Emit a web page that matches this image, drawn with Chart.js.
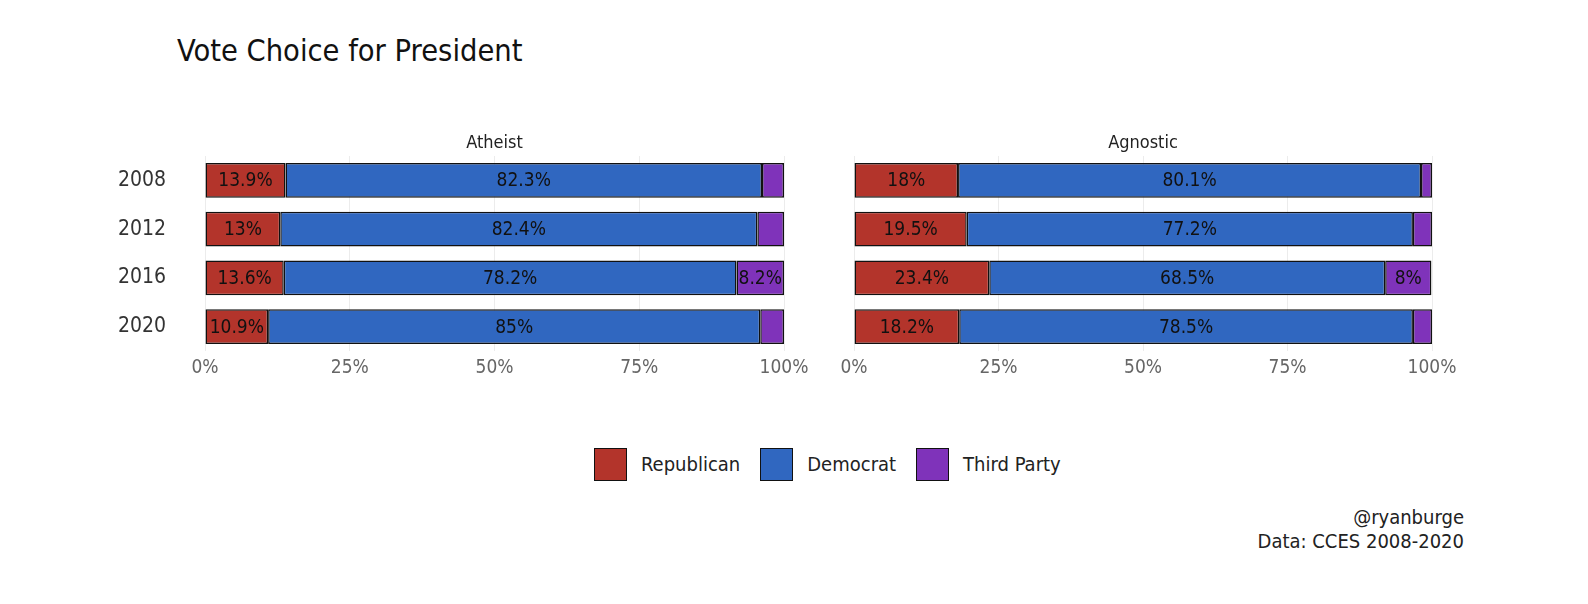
<!DOCTYPE html>
<html>
<head>
<meta charset="utf-8">
<script src="https://cdn.jsdelivr.net/npm/chart.js@4.4.1/dist/chart.umd.min.js"></script>
<style>
body{margin:0;background:#fff;width:1588px;height:604px;position:relative;overflow:hidden;font-family:"DejaVu Sans Condensed",sans-serif;}
#title{position:absolute;left:177px;top:32px;font-size:30.5px;line-height:38px;color:#111;}
.box{position:absolute;}
#legend{position:absolute;left:594px;top:447px;height:34px;display:flex;align-items:center;font-size:20px;color:#222;}
.sw{width:31px;height:31px;border:1.5px solid #111;margin-right:14px;flex:none;}
.lab{margin-right:20px;}
#caption{position:absolute;left:1200px;width:264px;top:505px;text-align:right;font-size:20px;line-height:24px;color:#222;}
</style>
</head>
<body>
<div id="title">Vote Choice for President</div>
<div class="box" style="left:100px;top:125px;width:720px;height:260px;"><canvas id="atheist"></canvas></div>
<div class="box" style="left:820px;top:125px;width:648px;height:260px;"><canvas id="agnostic"></canvas></div>
<div id="legend"></div>
<div id="caption">@ryanburge<br>Data: CCES 2008-2020</div>
<script>
const years = ["2008","2012","2016","2020"];
const parties = ["Republican","Democrat","Third Party"];
const colors = ["#b3342b","#3067c0","#7f33ba"];
const atheistRep = [13.9, 13.0, 13.6, 10.9];
const atheistDem = [82.3, 82.4, 78.2, 85.0];
const atheistThird = [3.8, 4.6, 8.2, 4.1];
const agnosticRep = [18.0, 19.5, 23.4, 18.2];
const agnosticDem = [80.1, 77.2, 68.5, 78.5];
const agnosticThird = [1.9, 3.3, 8.0, 3.3];
const xTicks = [0, 25, 50, 75, 100];
const fontFam = '"DejaVu Sans Condensed",sans-serif';

// legend
let lg = "";
for (let i = 0; i < parties.length; i++){
    lg += `<div class="sw" style="background:${colors[i]}"></div><div class="lab">${parties[i]}</div>`;
}
document.getElementById("legend").innerHTML = lg;

const barLabels = {
    id: "barLabels",
    afterDatasetsDraw(chart){
        const ctx = chart.ctx;
        ctx.save();
        ctx.font = "19px " + fontFam;
        ctx.fillStyle = "#111";
        ctx.textAlign = "center";
        ctx.textBaseline = "middle";
        chart.data.datasets.forEach((ds, di) => {
            chart.getDatasetMeta(di).data.forEach((bar, i) => {
                const v = ds.data[i];
                if (v < 5) return;
                const cx = (bar.x + bar.base) / 2;
                ctx.fillText(Math.round(v * 10) / 10 + "%", cx, bar.y + 1);
            });
        });
        ctx.restore();
    }
};

const panelTitle = {
    id: "panelTitle",
    afterDraw(chart, args, opts){
        const ctx = chart.ctx;
        const a = chart.chartArea;
        ctx.save();
        ctx.font = "18px " + fontFam;
        ctx.fillStyle = "#222";
        ctx.textAlign = "center";
        ctx.textBaseline = "middle";
        ctx.fillText(opts.text, (a.left + a.right) / 2, a.top - 13);
        ctx.restore();
    }
};

function makeChart(id, name, rep, dem, third, showYears, padLeft){
    const vals = [rep, dem, third];
    new Chart(document.getElementById(id), {
        type: "bar",
        data: {
            labels: years,
            datasets: parties.map((p, i) => ({
                label: p,
                data: vals[i],
                backgroundColor: colors[i],
                borderColor: "#111",
                borderWidth: 1.5,
                borderSkipped: false,
                categoryPercentage: 1,
                barPercentage: 0.71
            }))
        },
        options: {
            indexAxis: "y",
            responsive: true,
            maintainAspectRatio: false,
            animation: false,
            layout: { padding: { top: 31, right: 36, left: padLeft, bottom: 0 } },
            plugins: {
                legend: { display: false },
                tooltip: { enabled: false },
                panelTitle: { text: name }
            },
            scales: {
                x: {
                    stacked: true,
                    min: 0,
                    max: 100,
                    afterBuildTicks: (s) => { s.ticks = xTicks.map(v => ({ value: v })); },
                    afterFit: (s) => { s.height = 34; },
                    grid: { color: "#ececec", drawTicks: false },
                    border: { display: false },
                    ticks: {
                        padding: 6,
                        color: "#666",
                        font: { family: fontFam, size: 19 },
                        callback: (v) => v + "%"
                    }
                },
                y: {
                    stacked: true,
                    display: showYears,
                    afterFit: (s) => { s.width = showYears ? 87 : 0; },
                    grid: { display: false, drawTicks: false },
                    border: { display: false },
                    ticks: {
                        padding: 4,
                        crossAlign: "far",
                        color: "#333",
                        font: { family: fontFam, size: 21 }
                    }
                }
            }
        },
        plugins: [barLabels, panelTitle]
    });
}

makeChart("atheist", "Atheist", atheistRep, atheistDem, atheistThird, true, 18);
makeChart("agnostic", "Agnostic", agnosticRep, agnosticDem, agnosticThird, false, 34);
</script>
</body>
</html>
